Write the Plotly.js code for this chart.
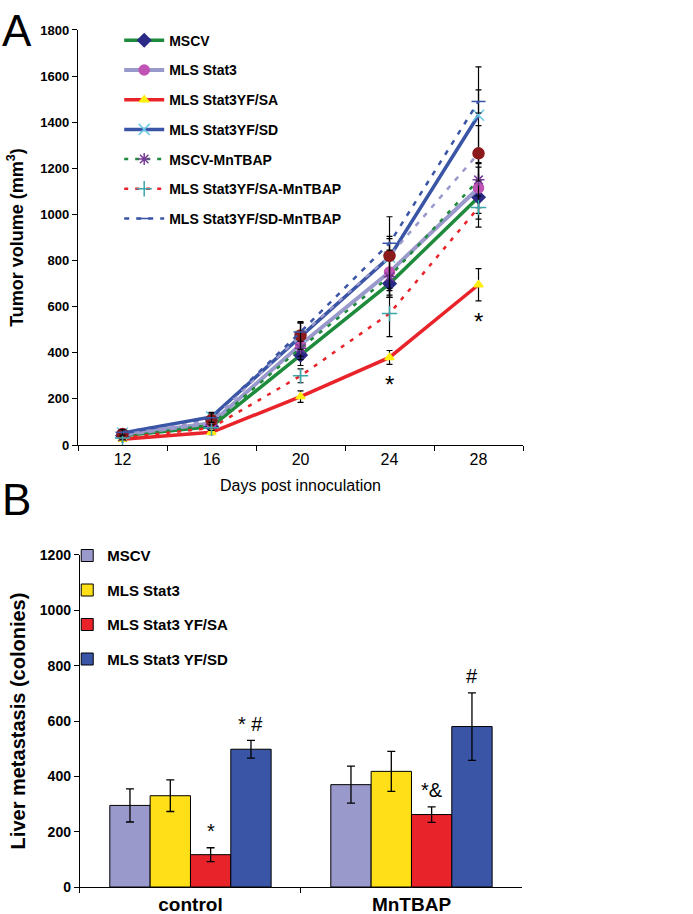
<!DOCTYPE html>
<html>
<head>
<meta charset="utf-8">
<script src="https://cdn.plot.ly/plotly-3.0.1.min.js"></script>
<style>
  body { margin: 0; background: #fff; }
  #chart { width: 693px; height: 914px; }
</style>
</head>
<body>
<div id="chart"></div>
<script>
// Panel A: tumour growth
const days = [12, 16, 20, 24, 28];

const mscv        = [40, 80, 390, 700, 1075];
const mscvErr     = [10, 15, 45, 60, 130];
const stat3       = [45, 95, 435, 750, 1115];
const stat3Err    = [10, 15, 50, 70, 110];
const ysa         = [25, 55, 210, 380, 695];
const ysaErr      = [8, 10, 25, 30, 70];
const ysd         = [52, 122, 470, 815, 1430];
const ysdErr      = [12, 20, 60, 80, 210];
const mscvMn      = [35, 88, 420, 730, 1150];
const mscvMnErr   = [10, 15, 50, 90, 120];
const stat3Mn     = [48, 108, 475, 820, 1265];
const stat3MnErr  = [12, 18, 60, 170, 120];
const ysaMn       = [30, 75, 300, 570, 1030];
const ysaMnErr    = [8, 12, 30, 100, 50];
const ysdMn       = [55, 118, 490, 875, 1490];
const ysdMnErr    = [12, 20, 40, 30, 50];

// Panel B: liver metastasis
const groups = ['control', 'MnTBAP'];
const barNames = ['MSCV', 'MLS Stat3', 'MLS Stat3 YF/SA', 'MLS Stat3 YF/SD'];
const barColors = ['#9a99cc', '#ffdf17', '#e8232a', '#3a55a6'];
const barValues = [[295, 370], [330, 418], [117, 262], [498, 580]];
const barErrors = [[60, 67], [57, 72], [25, 28], [32, 122]];
const barMarks = [['', ''], ['', ''], ['*', '*&'], ['* #', '#']];

const sans = 'Liberation Sans, Arial, sans-serif';

function lineTrace(name, y, err, color, width, dash, symbol, mColor, mSize, group, showLegend) {
    return {
        x: days, y: y, name: name,
        type: 'scatter', mode: 'lines+markers',
        xaxis: 'x', yaxis: 'y',
        legend: 'legend', legendgroup: group, showlegend: showLegend,
        line: {color: color, width: width, dash: dash},
        marker: {symbol: symbol, color: mColor, size: mSize,
                 line: {color: mColor, width: 1.5}},
        error_y: {type: 'data', array: err, visible: true,
                  color: '#000', thickness: 1.2, width: 3}
    };
}

const traces = [
    lineTrace('MSCV', mscv, mscvErr, '#1e8a3c', 3.5, 'solid', 'diamond', '#2b2a86', 10, 'a', true),
    lineTrace('MLS Stat3', stat3, stat3Err, '#9a99cc', 4, 'solid', 'circle', '#c054b4', 10, 'b', true),
    lineTrace('MLS Stat3YF/SA', ysa, ysaErr, '#e8232a', 3.5, 'solid', 'triangle-up', '#ffee10', 8, 'c', true),
    lineTrace('MLS Stat3YF/SD', ysd, ysdErr, '#3a55a6', 3.5, 'solid', 'x-thin-open', '#6cc8e8', 11, 'd', true),
    lineTrace('MSCV-MnTBAP', mscvMn, mscvMnErr, '#1e8a3c', 2.5, '4px,7px', 'asterisk-open', '#7a3c98', 10, 'e', true),
    lineTrace('MLS Stat3-MnTBAP', stat3Mn, stat3MnErr, '#9a99cc', 2.5, '5px,7px', 'circle', '#8b1a1c', 11, 'h', false),
    lineTrace('MLS Stat3YF/SA-MnTBAP', ysaMn, ysaMnErr, '#e8232a', 2.5, '4px,7px', 'cross-thin-open', '#3aa6aa', 11, 'f', true),
    lineTrace('MLS Stat3YF/SD-MnTBAP', ysdMn, ysdMnErr, '#3a55a6', 2.5, '5px,7px', 'line-ew-open', '#3a55a6', 10, 'g', true)
];

barNames.forEach((name, i) => {
    traces.push({
        x: groups, y: barValues[i], name: name,
        type: 'bar', xaxis: 'x2', yaxis: 'y2',
        legend: 'legend2', legendgroup: 'bar' + i,
        marker: {color: barColors[i], line: {color: '#000', width: 1}},
        error_y: {type: 'data', array: barErrors[i], visible: true,
                  color: '#000', thickness: 1.3, width: 4}
    });
});

const bargap = 0.27;
const barW = (1 - bargap) / barNames.length;
const annotations = [
    {text: 'A', xref: 'paper', yref: 'paper', x: 0, y: 0.996, xanchor: 'left', yanchor: 'top',
     showarrow: false, font: {family: sans, size: 44, color: '#000'}},
    {text: 'B', xref: 'paper', yref: 'paper', x: 0, y: 0.483, xanchor: 'left', yanchor: 'top',
     showarrow: false, font: {family: sans, size: 44, color: '#000'}}
];

// significance stars under the YF/SA curve at day 24 and 28
[3, 4].forEach(k => {
    annotations.push({text: '*', xref: 'x', yref: 'y', x: days[k], y: ysa[k] - ysaErr[k] - 20,
        yanchor: 'top', showarrow: false, font: {family: sans, size: 24, color: '#000'}});
});

barMarks.forEach((marks, i) => {
    marks.forEach((m, g) => {
        if (!m) return;
        annotations.push({
            text: m, xref: 'x2', yref: 'y2',
            x: g - (1 - bargap) / 2 + barW * (i + 0.5),
            y: barValues[i][g] + barErrors[i][g] + 12,
            yanchor: 'bottom', showarrow: false,
            font: {family: sans, size: 20, color: '#000'}
        });
    });
});

const layout = {
    width: 693, height: 914,
    margin: {l: 0, r: 0, t: 0, b: 0},
    paper_bgcolor: '#fff', plot_bgcolor: '#fff',
    font: {family: sans, color: '#000'},
    barmode: 'group', bargap: bargap, bargroupgap: 0,
    xaxis: {
        domain: [0.1126, 0.7547], anchor: 'y',
        range: [10, 30], showgrid: false, zeroline: false,
        showline: true, linecolor: '#000', linewidth: 1.2,
        tickvals: days, ticks: '',
        tickfont: {family: sans, size: 16},
        minor: {tick0: 10, dtick: 4, ticks: 'outside', ticklen: 5, tickcolor: '#000', showgrid: false},
        title: {text: 'Days post innoculation', font: {family: sans, size: 16}, standoff: 12}
    },
    yaxis: {
        domain: [0.5131, 0.9672], anchor: 'x',
        range: [0, 1800], dtick: 200, showgrid: false, zeroline: false,
        showline: true, linecolor: '#000', linewidth: 1.2,
        ticks: 'outside', ticklen: 5, tickcolor: '#000',
        tickfont: {family: sans, size: 13, weight: 'bold'},
        title: {text: 'Tumor volume (mm<sup>3</sup>)', font: {family: sans, size: 18, weight: 'bold'}, standoff: 12}
    },
    xaxis2: {
        domain: [0.1154, 0.7532], anchor: 'y2',
        showgrid: false, zeroline: false,
        showline: true, linecolor: '#000', linewidth: 1.2,
        ticks: 'outside', tickson: 'boundaries', ticklen: 5, tickcolor: '#000',
        tickfont: {family: sans, size: 19, weight: 'bold'}
    },
    yaxis2: {
        domain: [0.0295, 0.3928], anchor: 'x2',
        range: [0, 1200], dtick: 200, showgrid: false, zeroline: false,
        showline: true, linecolor: '#000', linewidth: 1.2,
        ticks: 'outside', ticklen: 5, tickcolor: '#000',
        tickfont: {family: sans, size: 14, weight: 'bold'},
        title: {text: 'Liver metastasis (colonies)', font: {family: sans, size: 20, weight: 'bold'}, standoff: 8}
    },
    legend: {
        x: 0.172, y: 0.973, xanchor: 'left', yanchor: 'top',
        traceorder: 'grouped', tracegroupgap: 8.5, itemwidth: 40,
        bgcolor: 'rgba(0,0,0,0)',
        font: {family: sans, size: 14, weight: 'bold'}
    },
    legend2: {
        x: 0.097, y: 0.41, xanchor: 'left', yanchor: 'top',
        traceorder: 'grouped', tracegroupgap: 12, itemwidth: 30,
        bgcolor: 'rgba(0,0,0,0)',
        font: {family: sans, size: 15, weight: 'bold'}
    },
    annotations: annotations
};

Plotly.newPlot('chart', traces, layout, {displayModeBar: false, staticPlot: true});
</script>
</body>
</html>
